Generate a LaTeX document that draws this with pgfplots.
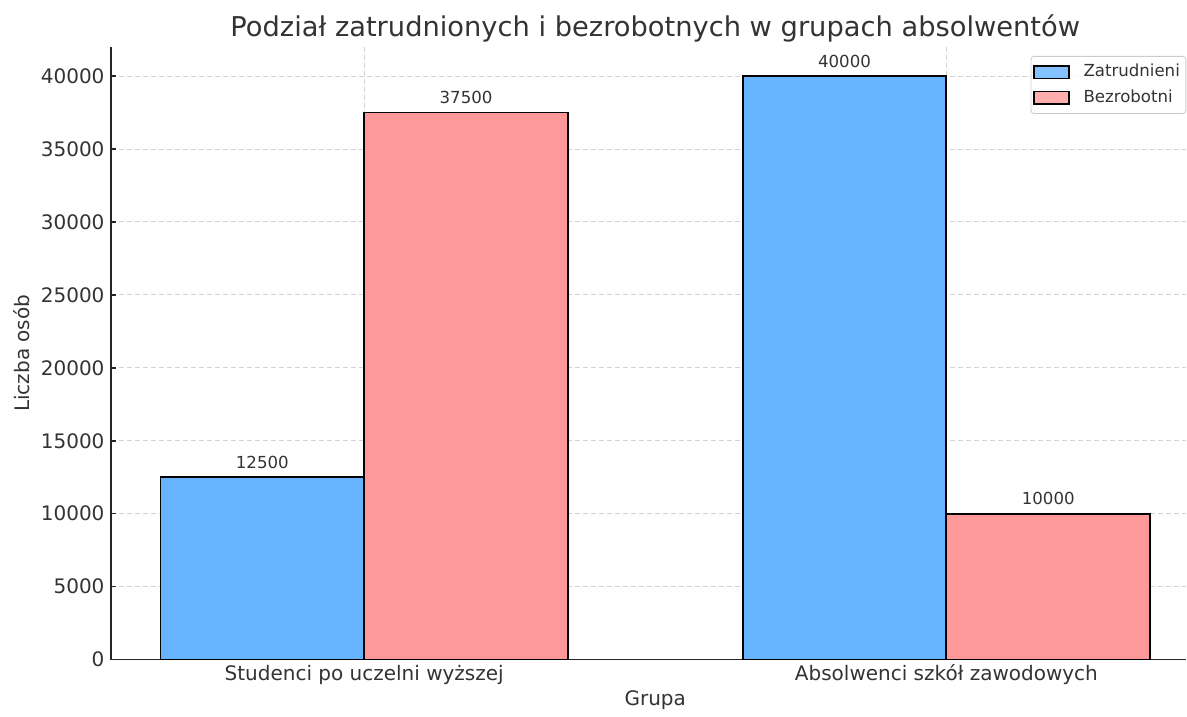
\documentclass[border=0pt]{standalone}
\usepackage{pgfplots}
\pgfplotsset{compat=1.18}
\usepackage{fontspec}
\setmainfont{DejaVu Sans}
\definecolor{cblue}{HTML}{66B3FF}
\definecolor{cred}{HTML}{FF9999}
\definecolor{txt}{HTML}{333333}
\begin{document}
\begin{tikzpicture}
\begin{axis}[
  scale only axis,
  width=538pt, height=306.5pt,
  xmin=-0.435, xmax=1.412, ymin=0, ymax=42000,
  axis x line*=bottom, axis y line*=left,
  x axis line style={-, line width=0.75pt, black!85},
  y axis line style={-, line width=0.75pt, black!85},
  xtick={0,1},
  xticklabels={Studenci po uczelni wyższej, Absolwenci szkół zawodowych},
  ytick={0,5000,...,40000},
  xtick style={draw=none},
  ytick style={line width=0.75pt, black!85},
  tick align=inside,
  major tick length=2.5pt,
  /pgf/number format/assume math mode=true,
  /pgf/number format/1000 sep={},
  scaled y ticks=false,
  ticklabel style={font=\fontsize{10pt}{12pt}\selectfont, text=txt},
  yticklabel style={anchor=east, xshift=0.3pt},
  xticklabel style={anchor=base, yshift=-8pt},
  grid=major,
  major grid style={gray!35, line width=0.5pt, dash pattern=on 2.5pt off 1.5pt},
  title={Podział zatrudnionych i bezrobotnych w grupach absolwentów},
  title style={font=\fontsize{13.65pt}{16pt}\selectfont, text=txt, at={(axis description cs:0.5062,1)}, anchor=base, yshift=-1pt},
  xlabel={Grupa},
  xlabel style={font=\fontsize{10pt}{12pt}\selectfont, text=txt, at={(axis description cs:0.5062,0)}, anchor=base, yshift=-23pt},
  ylabel={Liczba osób},
  ylabel style={font=\fontsize{10pt}{12pt}\selectfont, text=txt, at={(axis description cs:-0.0827,0.5)}, anchor=center},
  ybar, bar width=0.35,
  nodes near coords,
  every node near coord/.append style={font=\fontsize{8.3pt}{10pt}\selectfont, text=txt, yshift=0.5pt},
  legend style={at={(rel axis cs:1,1)}, anchor=north east, xshift=0pt, yshift=-4.5pt,
    draw=black!20, rounded corners=1.5pt, fill=white, fill opacity=0.8, text opacity=1,
    font=\fontsize{8.3pt}{10pt}\selectfont, text=txt, inner xsep=1pt, inner ysep=2pt,
    row sep=1pt, nodes={inner xsep=2pt},
    /tikz/every odd column/.append style={column sep=5pt}},
  legend cell align=left,
  legend image code/.code={\draw[#1, sharp corners, line width=0.75pt, draw=black] (0pt,-3.2pt) rectangle (17.5pt,3.2pt);},
]
\addplot[fill=cblue, draw=black, line width=0.9pt, bar shift=-0.175] coordinates {(0,12500) (1,40000)};
\addplot[fill=cred, draw=black, line width=0.9pt, bar shift=0.175] coordinates {(0,37500) (1,10000)};
\legend{Zatrudnieni, Bezrobotni}
\end{axis}
\path (-55.5pt,-25.5pt) (538pt,330pt);
\end{tikzpicture}
\end{document}
